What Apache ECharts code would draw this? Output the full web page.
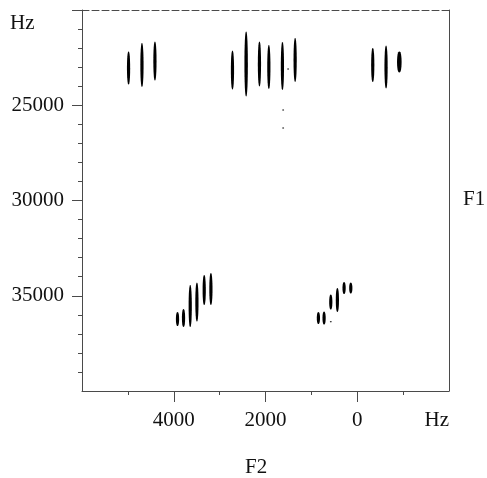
<!DOCTYPE html>
<html>
<head>
<meta charset="utf-8">
<script src="https://cdn.jsdelivr.net/npm/echarts@6/dist/echarts.min.js"></script>
<style>
html,body{margin:0;padding:0;background:#fff;}
#chart{width:487px;height:478px;}
</style>
</head>
<body>
<div id="chart"></div>
<script>
// Peak centres (F2, F1 in Hz) and peak extents (Hz)
var peakF2 = [4985, 4693, 4410, 2720, 2422, 2132, 1927, 1631, 1354, -338, -628, -917,
              3918, 3787, 3641, 3495, 3336, 3190, 847, 723, 577, 433, 287, 141,
              1507, 1615, 1615, 577];
var peakF1 = [23045, 22888, 22678, 23150, 22835, 22835, 22993, 22940, 22625, 22888, 22993, 22730,
              36223, 36170, 35540, 35330, 34700, 34648, 36170, 36170, 35330, 35225, 34595, 34595,
              23098, 25250, 26195, 36365];
var f1Width = [1733, 2310, 2048, 2048, 3413, 2363, 2310, 2520, 2310, 1785, 2258, 1103,
               735, 945, 2205, 2048, 1575, 1680, 630, 683, 788, 1260, 630, 578,
               60, 50, 50, 60];
var f2Width = [70, 70, 70, 70, 75, 70, 70, 70, 70, 70, 70, 100,
               70, 70, 70, 70, 70, 70, 70, 70, 70, 70, 70, 70,
               40, 40, 40, 40];

var xMajorTicks = [4000, 2000, 0];
var xMinorTicks = [5000, 3000, 1000, -1000];
var yMajorTicks = [20000, 25000, 30000, 35000];
var yLabels = [25000, 30000, 35000];
var yMinorTicks = [21000, 22000, 23000, 24000, 26000, 27000, 28000, 29000,
                   31000, 32000, 33000, 34000, 36000, 37000, 38000, 39000];

var data = peakF2.map(function (v, i) { return [v, peakF1[i], f1Width[i], f2Width[i]]; });

var FONT = 'Liberation Serif';
var LINE = '#4a4a4a';

var chart = echarts.init(document.getElementById('chart'), null, {renderer: 'canvas'});

function plain(v) { return String(Math.round(v)); }

function baseAxis(extra) {
  var ax = Object.assign({
    type: 'value', gridIndex: 0,
    splitLine: {show: false},
    axisLine: {show: false, onZero: false},
    axisTick: {show: false},
    axisLabel: {show: false}
  }, extra);
  ax.axisLine.onZero = false;
  return ax;
}

chart.setOption({
  animation: false,
  backgroundColor: '#fff',
  grid: {left: 82, right: 38, top: 10, bottom: 87, containLabel: false},
  xAxis: [
    baseAxis({
      min: -2000, max: 6000, inverse: true, position: 'bottom',
      axisLine: {show: true, lineStyle: {color: LINE, width: 1}},
      axisTick: {show: true, customValues: xMajorTicks, length: 11, lineStyle: {color: LINE}},
      axisLabel: {show: true, customValues: xMajorTicks, formatter: plain, margin: 19, fontFamily: FONT, fontSize: 21, color: '#111'}
    }),
    baseAxis({
      min: -2000, max: 6000, inverse: true, position: 'bottom',
      axisTick: {show: true, customValues: xMinorTicks, length: 4, lineStyle: {color: LINE}}
    }),
    baseAxis({
      min: -2000, max: 6000, inverse: true, position: 'top',
      axisLine: {show: true, lineStyle: {color: LINE, width: 1, type: [7, 3]}}
    })
  ],
  yAxis: [
    baseAxis({
      min: 20000, max: 40000, inverse: true, position: 'left',
      axisLine: {show: true, lineStyle: {color: LINE, width: 1}},
      axisTick: {show: true, customValues: yMajorTicks, length: 10, lineStyle: {color: LINE}},
      axisLabel: {show: true, customValues: yLabels, formatter: plain, margin: 18, fontFamily: FONT, fontSize: 21, color: '#111'}
    }),
    baseAxis({
      min: 20000, max: 40000, inverse: true, position: 'left',
      axisTick: {show: true, customValues: yMinorTicks, length: 4, lineStyle: {color: LINE}}
    }),
    baseAxis({
      min: 20000, max: 40000, inverse: true, position: 'right',
      axisLine: {show: true, lineStyle: {color: LINE, width: 1}}
    })
  ],
  series: [{
    type: 'custom',
    xAxisIndex: 0, yAxisIndex: 0,
    data: data,
    renderItem: function (params, api) {
      var x = api.value(0), y = api.value(1), h = api.value(2), w = api.value(3);
      var c = api.coord([x, y]);
      var t = api.coord([x, y - h / 2]);
      var b = api.coord([x, y + h / 2]);
      var l = api.coord([x + w / 2, y]);
      var r = api.coord([x - w / 2, y]);
      var ry = Math.max(Math.abs(b[1] - t[1]) / 2, 0.6);
      var rx = Math.max(Math.abs(r[0] - l[0]) / 2, 0.6);
      var pts = [];
      var n = 32;
      for (var i = 0; i < n; i++) {
        var a = i / n * 2 * Math.PI;
        var s = Math.sin(a);
        var k = Math.pow(Math.abs(s), 0.8) * (s < 0 ? -1 : 1);
        pts.push([c[0] + rx * k, c[1] - ry * Math.cos(a)]);
      }
      return {type: 'polygon', shape: {points: pts}, style: {fill: '#000'}};
    }
  }],
  graphic: [
    {type: 'text', left: 10, top: 13, style: {text: 'Hz', font: '21px "Liberation Serif"', fill: '#111'}},
    {type: 'text', right: 38, top: 410, style: {text: 'Hz', font: '21px "Liberation Serif"', fill: '#111'}},
    {type: 'text', left: 463, top: 189, style: {text: 'F1', font: '21px "Liberation Serif"', fill: '#111'}},
    {type: 'text', left: 245, top: 457, style: {text: 'F2', font: '21px "Liberation Serif"', fill: '#111'}}
  ]
});
</script>
</body>
</html>
